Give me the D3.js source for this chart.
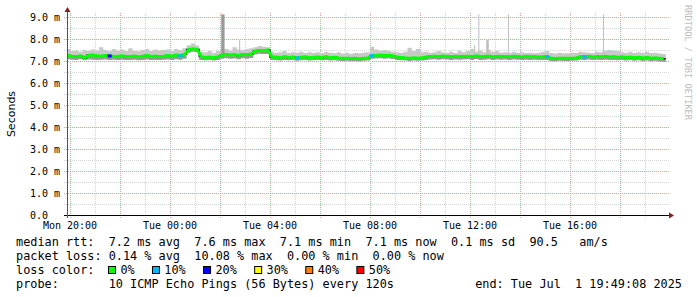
<!DOCTYPE html>
<html>
<head>
<meta charset="utf-8">
<script src="https://cdn.jsdelivr.net/npm/d3@7"></script>
<style>
body { margin: 0; background: #fff; }
text { font-family: "DejaVu Sans Mono", monospace; fill: #000; }
</style>
</head>
<body>
<svg id="chart" width="697" height="297"></svg>
<script>
// median rtt (ms), one value per 10 minutes, starting Mon 19:50
const med = [
  7.25,7.22,7.20,7.24,7.15,7.26,7.27,7.24,7.22,7.25,7.23,7.21,
  7.22,7.24,7.20,7.21,7.23,7.18,7.22,7.25,7.20,7.23,7.19,7.22,
  7.25,7.22,7.28,7.24,7.30,7.52,7.56,7.53,7.20,7.16,7.18,7.15,
  7.20,7.26,7.30,7.27,7.29,7.25,7.30,7.28,7.32,7.46,7.48,7.47,
  7.50,7.17,7.18,7.15,7.20,7.16,7.18,7.14,7.17,7.19,7.15,7.17,
  7.18,7.16,7.20,7.15,7.17,7.14,7.12,7.13,7.11,7.12,7.10,7.13,
  7.14,7.24,7.26,7.27,7.25,7.26,7.24,7.18,7.16,7.14,7.12,7.15,
  7.13,7.15,7.18,7.21,7.22,7.20,7.23,7.21,7.19,7.22,7.20,7.21,
  7.22,7.20,7.24,7.19,7.21,7.23,7.18,7.22,7.20,7.21,7.19,7.22,
  7.20,7.18,7.21,7.19,7.20,7.18,7.19,7.20,7.12,7.11,7.13,7.12,
  7.12,7.13,7.14,7.20,7.19,7.21,7.18,7.20,7.19,7.21,7.18,7.20,
  7.17,7.19,7.16,7.18,7.15,7.17,7.14,7.16,7.13,7.15,7.12,7.10
];
// fastest ping of each interval
const lo = [
  7.08,7.06,7.05,7.08,7.04,7.07,7.06,7.05,7.06,7.07,7.05,7.06,
  7.05,7.06,7.04,7.05,7.06,7.03,7.05,7.07,7.04,7.05,7.04,7.06,
  7.07,7.05,7.08,7.06,7.10,7.38,7.42,7.40,7.05,7.03,7.04,7.02,
  7.05,7.10,7.12,7.10,7.11,7.08,7.12,7.10,7.14,7.30,7.33,7.32,
  7.32,7.04,7.05,7.02,7.05,7.03,7.04,7.01,7.03,7.05,7.02,7.03,
  7.04,7.03,7.05,7.02,7.03,7.01,7.00,7.01,6.99,7.00,6.98,7.01,
  7.02,7.10,7.11,7.12,7.10,7.11,7.09,7.05,7.03,7.02,7.00,7.02,
  7.01,7.02,7.05,7.07,7.08,7.06,7.08,7.07,7.05,7.07,7.06,7.07,
  7.08,7.05,7.09,7.05,7.06,7.08,7.04,7.07,7.06,7.07,7.05,7.07,
  7.06,7.04,7.06,7.05,7.06,7.04,7.05,7.05,7.00,6.99,7.01,7.00,
  7.00,7.01,7.02,7.06,7.05,7.07,7.04,7.06,7.05,7.06,7.04,7.05,
  7.03,7.05,7.02,7.04,7.01,7.03,7.00,7.02,6.99,7.01,6.98,6.97
];
// slowest ping of each interval
const hi = [
  7.55,7.45,7.48,7.42,7.50,7.45,7.52,7.48,7.62,7.50,7.46,7.55,
  7.48,7.52,7.45,7.58,7.47,7.44,7.50,7.55,7.46,7.52,7.48,7.50,
  7.52,7.46,7.55,7.50,7.58,7.72,7.80,7.70,7.42,7.40,7.45,7.38,
  7.45,7.50,7.55,7.48,7.62,7.52,7.50,7.55,7.58,7.62,7.68,7.65,
  7.62,7.42,7.38,7.40,7.45,7.36,7.40,7.38,7.42,7.36,7.40,7.38,
  7.40,7.36,7.42,7.38,7.35,7.40,7.34,7.38,7.33,7.36,7.35,7.38,
  7.40,7.65,7.52,7.48,7.50,7.45,7.42,7.40,7.38,7.42,7.60,7.45,
  7.55,7.40,7.42,7.38,7.40,7.45,7.40,7.38,7.42,7.36,7.45,7.40,
  7.45,7.55,7.42,7.48,7.40,7.50,7.42,7.45,7.38,7.40,7.36,7.42,
  7.38,7.40,7.36,7.38,7.35,7.38,7.42,7.45,7.36,7.34,7.38,7.35,
  7.35,7.38,7.36,7.42,7.40,7.38,7.36,7.42,7.40,7.45,7.50,7.48,
  7.45,7.40,7.38,7.42,7.36,7.40,7.38,7.42,7.36,7.38,7.34,7.32
];
// single slow pings (spikes)
const spikeTimes = ["2025-07-01T02:03", "2025-07-01T02:46", "2025-07-01T12:10", "2025-07-01T12:20", "2025-07-01T12:39", "2025-07-01T13:31", "2025-07-01T17:19"];
const spikeValues = [9.12, 7.95, 7.72, 9.12, 7.95, 9.12, 9.12];
const spikeMinutes = [8, 2.4, 2.4, 2.4, 6, 2.4, 2.4];
const spikePings = [5, 1, 1, 1, 1, 1, 1];
// intervals with packet loss
const lossIndex = [10, 27, 55, 73, 115, 124];
const lossPct = [20, 10, 10, 10, 10, 10];

const lossLevels = [0, 10, 20, 30, 40, 50];
const lossColors = ["#00ff00", "#00b8ff", "#0000ff", "#ffff00", "#ff8000", "#ff0000"];

const yTicks = [0, 1, 2, 3, 4, 5, 6, 7, 8, 9];
const yTickLabels = ["0.0", "1.0 m", "2.0 m", "3.0 m", "4.0 m", "5.0 m", "6.0 m", "7.0 m", "8.0 m", "9.0 m"];
const xTickTimes = ["2025-06-30T20:00", "2025-07-01T00:00", "2025-07-01T04:00", "2025-07-01T08:00", "2025-07-01T12:00", "2025-07-01T16:00"];
const xTickLabels = ["Mon 20:00", "Tue 00:00", "Tue 04:00", "Tue 08:00", "Tue 12:00", "Tue 16:00"];

const legendRows = [
  "median rtt:  7.2 ms avg  7.6 ms max  7.1 ms min  7.1 ms now  0.1 ms sd  90.5   am/s",
  "packet loss: 0.14 % avg  10.08 % max  0.00 % min  0.00 % now",
  "loss color:",
  "probe:       10 ICMP Echo Pings (56 Bytes) every 120s"
];
const endLabel = "end: Tue Jul  1 19:49:08 2025";

const pLeft = 67, pRight = 667, pTop = 13, pBottom = 215;
const svg = d3.select("#chart");

const x = d3.scaleTime()
  .domain([new Date("2025-06-30T19:52:48"), new Date("2025-07-01T19:52:48")])
  .range([pLeft, pRight]);
const y = d3.scaleLinear().domain([0, 9]).range([pBottom, 17]);

const t0 = new Date("2025-06-30T19:50");
const stepMs = 10 * 60000;
let rows = med.map((m, i) => ({t: new Date(+t0 + i * stepMs), m: m, lo: lo[i], hi: hi[i]}));
let last = rows[rows.length - 1];
let rowsStep = rows.concat([{t: new Date(+last.t + stepMs), m: last.m, lo: last.lo, hi: last.hi}]);

// grid
let hours = d3.timeHour.range(d3.timeHour.ceil(x.domain()[0]), x.domain()[1]);
svg.append("g").selectAll("line")
  .data(hours)
  .join("line")
  .attr("x1", d => Math.round(x(d)) + 0.5)
  .attr("x2", d => Math.round(x(d)) + 0.5)
  .attr("y1", pTop)
  .attr("y2", pBottom + 3)
  .attr("stroke", d => d.getHours() % 2 == 0 ? "#e6a0a0" : "#d4d4d4")
  .attr("stroke-dasharray", "1,1");

let halfMs = d3.range(1, 19).map(d => d / 2);
svg.append("g").selectAll("line")
  .data(halfMs)
  .join("line")
  .attr("x1", pLeft - 3)
  .attr("x2", pRight + 2)
  .attr("y1", d => Math.round(y(d)) + 0.5)
  .attr("y2", d => Math.round(y(d)) + 0.5)
  .attr("stroke", d => d % 1 == 0 ? "#e6a0a0" : "#d4d4d4")
  .attr("stroke-dasharray", "1,1");

svg.append("clipPath").attr("id", "plot")
  .append("rect").attr("x", pLeft).attr("y", pTop).attr("width", pRight - pLeft).attr("height", pBottom - pTop);
const plot = svg.append("g").attr("clip-path", "url(#plot)");

// smoke
plot.append("path")
  .attr("fill", "#c8c8c8")
  .attr("d", d3.area().curve(d3.curveStepAfter).x(d => x(d.t)).y0(d => y(d.m)).y1(d => y(d.hi))(rowsStep));
plot.append("path")
  .attr("fill", "#999999")
  .attr("d", d3.area().curve(d3.curveStepAfter).x(d => x(d.t)).y0(d => y(d.lo)).y1(d => y(d.m))(rowsStep));

plot.append("g").selectAll("rect")
  .data(spikeTimes)
  .join("rect")
  .attr("x", d => x(new Date(d)))
  .attr("width", (d, i) => x(new Date(+new Date(d) + spikeMinutes[i] * 60000)) - x(new Date(d)))
  .attr("y", (d, i) => y(spikeValues[i]))
  .attr("height", (d, i) => y(7.3) - y(spikeValues[i]))
  .attr("fill", (d, i) => spikePings[i] > 1 ? "#9a9a9a" : "#bdbdbd");

// median line
plot.append("path")
  .attr("fill", "none")
  .attr("stroke", "#202020")
  .attr("stroke-width", 1.4)
  .attr("d", d3.line().curve(d3.curveStepAfter).x(d => x(d.t)).y(d => y(d.m))(rowsStep));
plot.append("path")
  .attr("fill", "none")
  .attr("stroke", lossColors[0])
  .attr("stroke-width", 3)
  .attr("d", d3.line().x(d => x(new Date(+d.t + stepMs / 2))).y(d => y(d.m))(rows));
plot.append("g").selectAll("line")
  .data(lossIndex)
  .join("line")
  .attr("x1", d => x(rows[d].t))
  .attr("x2", d => x(new Date(+rows[d].t + stepMs)))
  .attr("y1", d => y(rows[d].m))
  .attr("y2", d => y(rows[d].m))
  .attr("stroke", (d, i) => lossColors[lossLevels.indexOf(lossPct[i])])
  .attr("stroke-width", 3);

// axes
svg.append("line").attr("x1", pLeft - 3).attr("x2", pRight + 3).attr("y1", pBottom + 0.5).attr("y2", pBottom + 0.5).attr("stroke", "#000");
svg.append("line").attr("x1", pLeft + 0.5).attr("x2", pLeft + 0.5).attr("y1", pBottom + 3).attr("y2", pTop - 2).attr("stroke", "#555");
svg.append("path").attr("fill", "#8b1a1a")
  .attr("d", `M${pRight + 2},${pBottom - 2.5}L${pRight + 7},${pBottom + 0.5}L${pRight + 2},${pBottom + 3.5}Z`);
svg.append("path").attr("fill", "#8b1a1a")
  .attr("d", `M${pLeft - 2.5},${pTop - 1}L${pLeft + 0.5},${pTop - 6}L${pLeft + 3.5},${pTop - 1}Z`);

svg.append("g").selectAll("text")
  .data(yTicks)
  .join("text")
  .attr("x", 30)
  .attr("y", d => y(d))
  .attr("dy", "0.36em")
  .style("font-size", "10px")
  .style("white-space", "pre")
  .text((d, i) => yTickLabels[i]);

svg.append("g").selectAll("text")
  .data(xTickTimes)
  .join("text")
  .attr("x", d => x(new Date(d)))
  .attr("y", 228.5)
  .attr("text-anchor", "middle")
  .style("font-size", "10px")
  .text((d, i) => xTickLabels[i]);

svg.append("text")
  .attr("transform", "translate(15,114) rotate(-90)")
  .attr("text-anchor", "middle")
  .style("font-family", "DejaVu Sans")
  .style("font-size", "11px")
  .text("Seconds");

svg.append("text")
  .attr("transform", "translate(685,5) rotate(90)")
  .style("font-size", "8.7px")
  .style("fill", "#bdbdbd")
  .text("RRDTOOL / TOBI OETIKER");

// legend
const legendFont = 11.85, charW = legendFont * 0.602;
const rowY = [245.5, 259.8, 274.1, 288.4];
svg.append("g").selectAll("text")
  .data(legendRows)
  .join("text")
  .attr("x", 16)
  .attr("y", (d, i) => rowY[i])
  .style("font-size", legendFont + "px")
  .style("white-space", "pre")
  .text(d => d);

svg.append("text")
  .attr("x", 682)
  .attr("y", rowY[3])
  .attr("text-anchor", "end")
  .style("font-size", legendFont + "px")
  .style("white-space", "pre")
  .text(endLabel);

let cursor = 108;
lossLevels.forEach((lv, i) => {
  let label = lv + "%";
  svg.append("rect")
    .attr("x", cursor + 0.5).attr("y", 266.5)
    .attr("width", 7).attr("height", 7)
    .attr("fill", lossColors[i]).attr("stroke", "#000");
  svg.append("text")
    .attr("x", cursor + 12.4)
    .attr("y", rowY[2])
    .style("font-size", legendFont + "px")
    .text(label);
  cursor += 12.4 + label.length * charW + 17.3;
});
</script>
</body>
</html>
